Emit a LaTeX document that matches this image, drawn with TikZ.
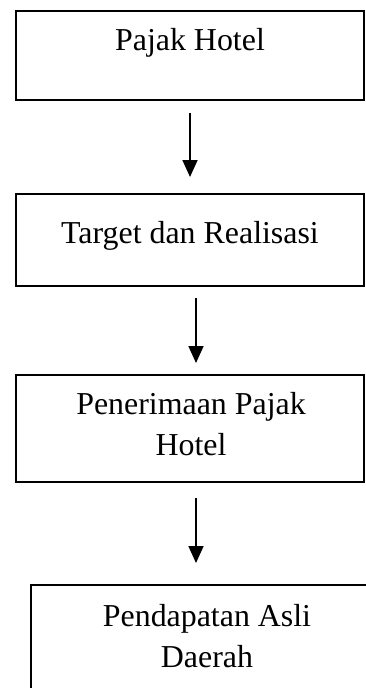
\documentclass[tikz,border=0pt]{standalone}
\usepackage{fontspec}
\setmainfont{Liberation Serif}
\usetikzlibrary{arrows.meta}
\begin{document}
\begin{tikzpicture}[x=1pt,y=-1pt,
  box/.style={draw=black,line width=2.5pt,inner sep=0pt,outer sep=0pt},
  lbl/.style={font=\fontsize{31.9}{41}\selectfont,anchor=base,inner sep=0pt,align=center},
  arr/.style={-{Triangle[width=15pt,length=17pt]},line width=1.7pt,draw=black}]
\useasboundingbox (0,0) rectangle (366,688);
\clip (0,0) rectangle (366,688);
\node[box,minimum width=348pt,minimum height=89pt] (b1) at (190,55.5) {};
\node[box,minimum width=348pt,minimum height=92pt] (b2) at (190,240) {};
\node[box,minimum width=348pt,minimum height=107pt] (b3) at (190,428.5) {};
\node[box,minimum width=352pt,minimum height=107pt] (b4) at (207,638.5) {};
\node[lbl] (t1) at (190,50) {Pajak Hotel};
\node[lbl] (t2) at (190,243) {Target dan Realisasi};
\node[lbl] (t3) at (191,455) {Penerimaan Pajak\\Hotel};
\node[lbl] (t4) at (207,667) {Pendapatan Asli\\Daerah};
\draw[arr] ([yshift=-13pt]b1.south) -- ([yshift=17pt]b2.north);
\draw[arr] ([xshift=6pt,yshift=-12pt]b2.south) -- ([xshift=6pt,yshift=12pt]b3.north);
\coordinate (c4) at ([xshift=6pt]b3.south |- b4.north);
\draw[arr] ([xshift=6pt,yshift=-16pt]b3.south) -- ([yshift=22pt]c4);
\end{tikzpicture}
\end{document}
